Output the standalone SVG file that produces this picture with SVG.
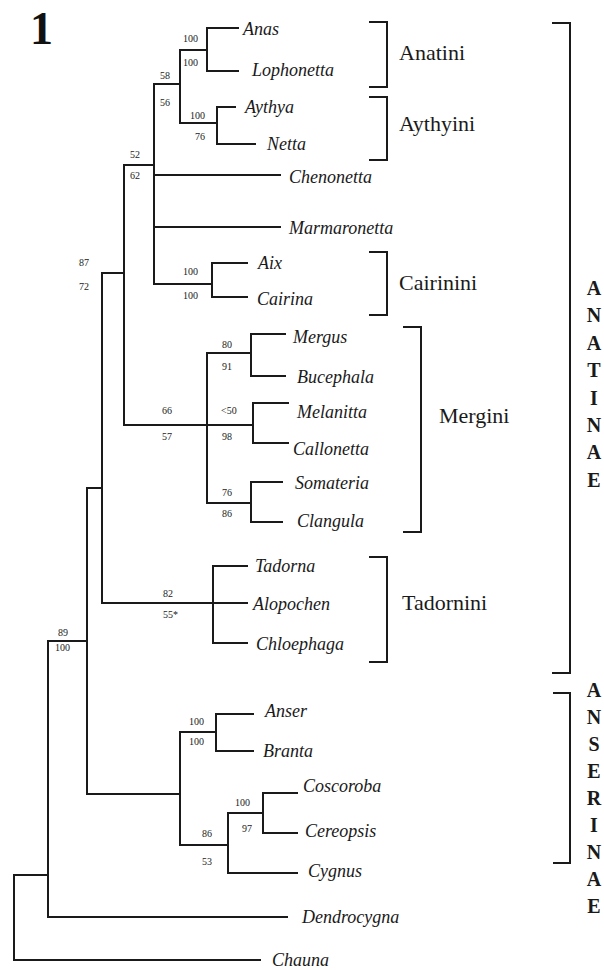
<svg xmlns="http://www.w3.org/2000/svg" width="604" height="970" viewBox="0 0 604 970">
<style>
.ln{fill:none;stroke:#1a1a1a;stroke-width:2;stroke-linecap:square}
.br{fill:none;stroke:#1a1a1a;stroke-width:2}
.tx{font-family:"Liberation Serif","Times New Roman",serif;font-style:italic;font-size:18px;fill:#1a1a1a}
.sv{font-family:"Liberation Serif","Times New Roman",serif;font-size:10px;fill:#1a1a1a}
.gp{font-family:"Liberation Serif","Times New Roman",serif;font-size:22px;fill:#1a1a1a}
.sf{font-family:"Liberation Serif","Times New Roman",serif;font-size:20px;font-weight:bold;fill:#1a1a1a;text-anchor:middle}
</style>
<rect width="604" height="970" fill="#fff"/>
<text x="30" y="44" font-family="'Liberation Serif','Times New Roman',serif" font-size="46" font-weight="bold" fill="#111">1</text>

<g id="connectors" class="ln">
<path d="M14,875V960M14,875H48M14,960H260"/>
<path d="M48,641V917M48,917H287M48,641H87"/>
<path d="M87,488V794M87,488H102M87,794H180"/>
<path d="M180,732V845M180,732H216M216,714V751M216,714H253M216,751H253"/>
<path d="M180,845H228M228,813V873M228,813H263M263,793V833M263,793H297M263,833H297M228,873H297"/>
<path d="M102,273V603M102,603H247M213,566V643M213,566H247M213,643H247"/>
<path d="M102,273H124M124,165V425M124,425H253"/>
<path d="M207,353V503M207,353H251M251,334V376M251,334H285M251,376H285"/>
<path d="M253,403V443M253,403H288M253,443H288"/>
<path d="M207,503H251M251,482V522M251,482H282M251,522H282"/>
<path d="M124,165H154M154,84V284M154,84H180M180,50V123M180,50H207M207,28V71M207,28H238M207,71H238"/>
<path d="M180,123H217M217,107V144M217,107H235M217,144H255"/>
<path d="M154,175H280M154,227H280M154,284H212M212,263V297M212,263H247M212,297H247"/>
</g>

<g id="support" class="sv">
<text x="183" y="42">100</text><text x="183" y="66">100</text>
<text x="160" y="79">58</text><text x="160" y="106">56</text>
<text x="190" y="119">100</text><text x="195" y="140">76</text>
<text x="130" y="158">52</text><text x="130" y="179">62</text>
<text x="183" y="275">100</text><text x="183" y="299">100</text>
<text x="79" y="266">87</text><text x="79" y="290">72</text>
<text x="222" y="348">80</text><text x="222" y="370">91</text>
<text x="162" y="414">66</text><text x="162" y="440">57</text>
<text x="221" y="414">&lt;50</text><text x="222" y="440">98</text>
<text x="222" y="496">76</text><text x="222" y="517">86</text>
<text x="163" y="597">82</text><text x="163" y="618">55*</text>
<text x="58" y="636">89</text><text x="55" y="651">100</text>
<text x="189" y="725">100</text><text x="189" y="745">100</text>
<text x="235" y="806">100</text><text x="242" y="832">97</text>
<text x="202" y="837">86</text><text x="202" y="865">53</text>
</g>

<g id="Anas"><text class="tx" x="243" y="35">Anas</text></g>
<g id="Lophonetta"><text class="tx" x="252" y="76">Lophonetta</text></g>
<g id="Aythya"><text class="tx" x="245" y="113">Aythya</text></g>
<g id="Netta"><text class="tx" x="267" y="150">Netta</text></g>
<g id="Chenonetta"><text class="tx" x="289" y="183">Chenonetta</text></g>
<g id="Marmaronetta"><text class="tx" x="289" y="234">Marmaronetta</text></g>
<g id="Aix"><text class="tx" x="258" y="269">Aix</text></g>
<g id="Cairina"><text class="tx" x="257" y="305">Cairina</text></g>
<g id="Mergus"><text class="tx" x="293" y="343">Mergus</text></g>
<g id="Bucephala"><text class="tx" x="297" y="383">Bucephala</text></g>
<g id="Melanitta"><text class="tx" x="297" y="418">Melanitta</text></g>
<g id="Callonetta"><text class="tx" x="293" y="455">Callonetta</text></g>
<g id="Somateria"><text class="tx" x="295" y="489">Somateria</text></g>
<g id="Clangula"><text class="tx" x="297" y="527">Clangula</text></g>
<g id="Tadorna"><text class="tx" x="255" y="572">Tadorna</text></g>
<g id="Alopochen"><text class="tx" x="253" y="610">Alopochen</text></g>
<g id="Chloephaga"><text class="tx" x="256" y="650">Chloephaga</text></g>
<g id="Anser"><text class="tx" x="265" y="717">Anser</text></g>
<g id="Branta"><text class="tx" x="263" y="757">Branta</text></g>
<g id="Coscoroba"><text class="tx" x="303" y="792">Coscoroba</text></g>
<g id="Cereopsis"><text class="tx" x="305" y="837">Cereopsis</text></g>
<g id="Cygnus"><text class="tx" x="308" y="877">Cygnus</text></g>
<g id="Dendrocygna"><text class="tx" x="302" y="923">Dendrocygna</text></g>
<g id="Chauna"><text class="tx" x="272" y="966">Chauna</text></g>

<g id="Anatini"><path class="br" d="M369,22H387V87H369"/><text class="gp" x="399" y="60">Anatini</text></g>
<g id="Aythyini"><path class="br" d="M369,97H387V160H369"/><text class="gp" x="399" y="131">Aythyini</text></g>
<g id="Cairinini"><path class="br" d="M369,252H387V315H369"/><text class="gp" x="399" y="290">Cairinini</text></g>
<g id="Mergini"><path class="br" d="M403,327H421V532H403"/><text class="gp" x="439" y="423">Mergini</text></g>
<g id="Tadornini"><path class="br" d="M369,557H387V662H369"/><text class="gp" x="402" y="610">Tadornini</text></g>

<g id="Anatinae"><path class="br" d="M552,23H570V673H552"/>
<text class="sf" x="594" y="295">A</text><text class="sf" x="594" y="322">N</text><text class="sf" x="594" y="350">A</text><text class="sf" x="594" y="377">T</text><text class="sf" x="594" y="405">I</text><text class="sf" x="594" y="432">N</text><text class="sf" x="594" y="459">A</text><text class="sf" x="594" y="487">E</text>
</g>
<g id="Anserinae"><path class="br" d="M553,693H570V863H553"/>
<text class="sf" x="594" y="697">A</text><text class="sf" x="594" y="724">N</text><text class="sf" x="594" y="751">S</text><text class="sf" x="594" y="778">E</text><text class="sf" x="594" y="805">R</text><text class="sf" x="594" y="832">I</text><text class="sf" x="594" y="859">N</text><text class="sf" x="594" y="886">A</text><text class="sf" x="594" y="913">E</text>
</g>
</svg>
